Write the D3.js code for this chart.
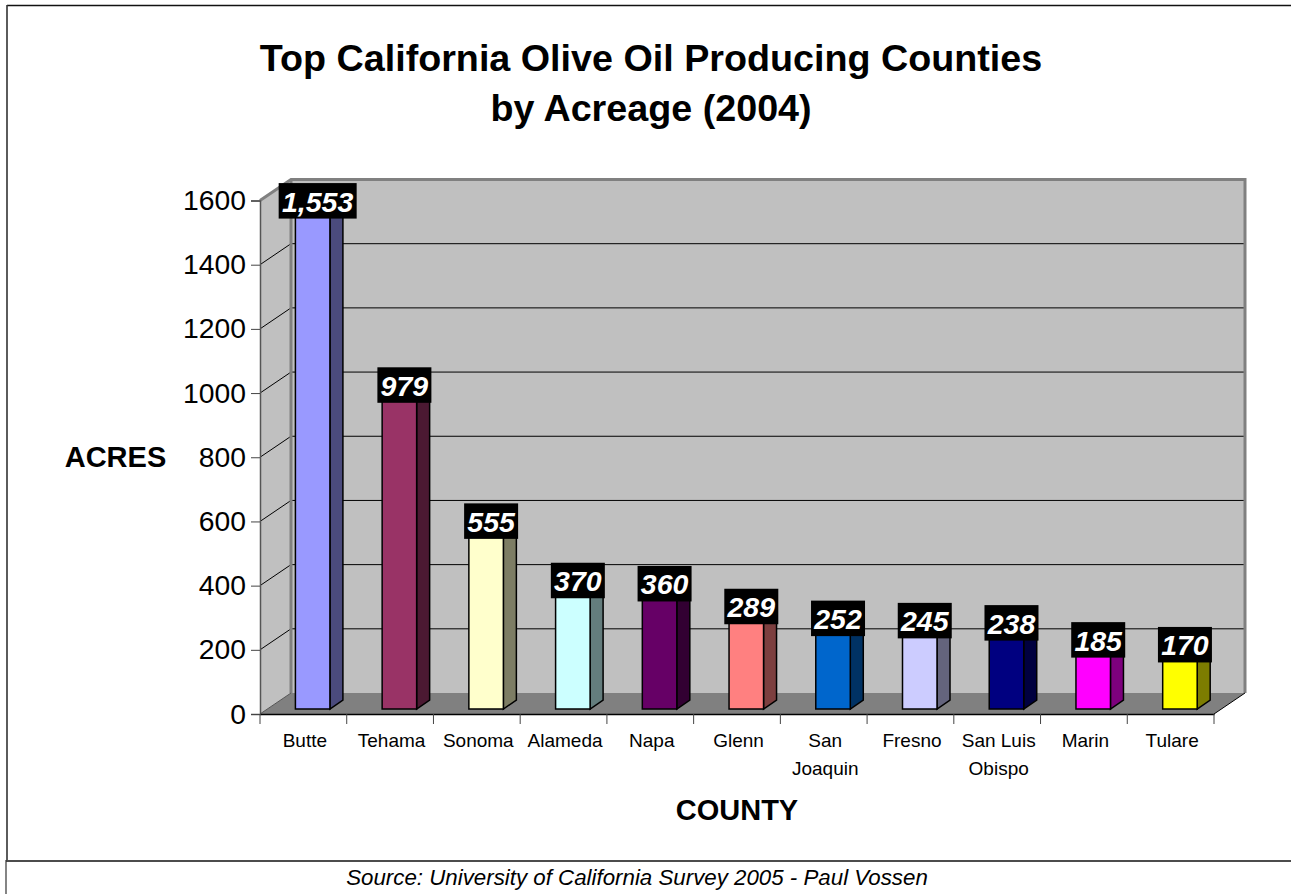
<!DOCTYPE html>
<html>
<head>
<meta charset="utf-8">
<style>
  html, body { margin: 0; padding: 0; background: #fff; overflow: hidden; }
  text { font-family: "Liberation Sans", Arial, sans-serif; fill: #000; }
</style>
<script src="https://cdn.jsdelivr.net/npm/d3@7/dist/d3.min.js"></script>
</head>
<body>
<div id="chart-area"></div>
<script>
const counties = ['Butte', 'Tehama', 'Sonoma', 'Alameda', 'Napa', 'Glenn', 'San Joaquin', 'Fresno', 'San Luis Obispo', 'Marin', 'Tulare']
const acres = [1553, 979, 555, 370, 360, 289, 252, 245, 238, 185, 170]
const barColors = ['#9999ff', '#993366', '#ffffcc', '#ccffff', '#660066', '#ff8080', '#0066cc', '#ccccff', '#000080', '#ff00ff', '#ffff00']
const yTicks = [0, 200, 400, 600, 800, 1000, 1200, 1400, 1600]
const titleLines = ['Top California Olive Oil Producing Counties', 'by Acreage (2004)']
// how the county names wrap under the axis
const countyLines = { 'San Joaquin': ['San', 'Joaquin'], 'San Luis Obispo': ['San Luis', 'Obispo'] }

const W = 1291
const H = 894

const svg = d3.select('#chart-area')
              .append('svg')
              .attr('width', W)
              .attr('height', H)
              .style('display', 'block')

// X Scale
const x = d3.scaleBand()
            .domain(counties)
            .range([260, 1214])

// Y Scale
const y = d3.scaleLinear()
            .domain([0, 1600])
            .range([714, 200.5])

// 3D offsets: back wall and the bars
const depth = { x: 31, y: -21 }
const bar = { shift: 9.3, width: 34.5, lift: 5, dx: 13, dy: -9 }

const x0 = x.range()[0]
const x1 = x.range()[1]

// Frame
svg.append('line').attr('x1', 7).attr('x2', W).attr('y1', 5.5).attr('y2', 5.5).attr('stroke', '#111').attr('stroke-width', 1.6)
svg.append('line').attr('x1', 7).attr('x2', 7).attr('y1', 5).attr('y2', 860).attr('stroke', '#333').attr('stroke-width', 1.6)
svg.append('line').attr('x1', 6).attr('x2', W).attr('y1', 861).attr('y2', 861).attr('stroke', '#111').attr('stroke-width', 1.6)
svg.append('line').attr('x1', 6).attr('x2', 6).attr('y1', 860).attr('y2', H).attr('stroke', '#333').attr('stroke-width', 1.2)

// Walls
const pts = a => a.map(p => p.join(',')).join(' ')
svg.append('polygon') // back wall
   .attr('points', pts([[x0 + depth.x, y(1600) + depth.y], [x1 + depth.x, y(1600) + depth.y], [x1 + depth.x, y(0) + depth.y], [x0 + depth.x, y(0) + depth.y]]))
   .attr('fill', '#c0c0c0')
svg.append('polygon') // left wall
   .attr('points', pts([[x0, y(1600)], [x0 + depth.x, y(1600) + depth.y], [x0 + depth.x, y(0) + depth.y], [x0, y(0)]]))
   .attr('fill', '#c0c0c0')
svg.append('polygon') // floor
   .attr('points', pts([[x0, y(0)], [x0 + depth.x, y(0) + depth.y], [x1 + depth.x, y(0) + depth.y], [x1, y(0)]]))
   .attr('fill', '#808080')

// Gridlines
const grid = yTicks.slice(1, -1)
svg.selectAll('.grid-back').data(grid).enter().append('line')
   .attr('class', 'grid-back')
   .attr('x1', x0 + depth.x).attr('x2', x1 + depth.x)
   .attr('y1', d => y(d) + depth.y).attr('y2', d => y(d) + depth.y)
   .attr('stroke', '#000').attr('stroke-width', 1)
svg.selectAll('.grid-side').data(grid).enter().append('line')
   .attr('class', 'grid-side')
   .attr('x1', x0).attr('x2', x0 + depth.x)
   .attr('y1', d => y(d)).attr('y2', d => y(d) + depth.y)
   .attr('stroke', '#000').attr('stroke-width', 1)

// Wall edges
svg.append('polyline')
   .attr('points', pts([[x0, y(1600)], [x0 + depth.x, y(1600) + depth.y], [x1 + depth.x, y(1600) + depth.y], [x1 + depth.x, y(0) + depth.y]]))
   .attr('fill', 'none').attr('stroke', '#808080').attr('stroke-width', 3)
svg.append('line')
   .attr('x1', x0 + depth.x).attr('y1', y(1600) + depth.y).attr('x2', x0 + depth.x).attr('y2', y(0) + depth.y)
   .attr('stroke', '#808080').attr('stroke-width', 3)
svg.append('line')
   .attr('x1', x0).attr('y1', y(0)).attr('x2', x0 + depth.x).attr('y2', y(0) + depth.y)
   .attr('stroke', '#555').attr('stroke-width', 1)
svg.append('line')
   .attr('x1', x1).attr('y1', y(0)).attr('x2', x1 + depth.x).attr('y2', y(0) + depth.y)
   .attr('stroke', '#000').attr('stroke-width', 1)

// Y Axis
const yAxisCall = d3.axisLeft(y)
                    .tickValues(yTicks)
                    .tickSize(9)
                    .tickPadding(5)
                    .tickFormat(d => d)
const yAxisGroup = svg.append('g')
                      .attr('class', 'y-axis')
                      .attr('transform', 'translate(' + x0 + ',0)')
                      .call(yAxisCall)
yAxisGroup.select('.domain').attr('stroke', '#555').attr('stroke-width', 1.5)
yAxisGroup.selectAll('line').attr('stroke', '#444').attr('stroke-width', 1)
yAxisGroup.selectAll('text')
          .attr('font-size', '28.3px')
          .attr('font-family', '"Liberation Sans", Arial, sans-serif')
          .attr('fill', '#000')

// X Axis
const xAxisCall = d3.axisBottom(x).tickSize(0).tickFormat('')
const xAxisGroup = svg.append('g')
                      .attr('class', 'x-axis')
                      .attr('transform', 'translate(0,' + y(0) + ')')
                      .call(xAxisCall)
xAxisGroup.select('.domain').attr('stroke', '#000').attr('stroke-width', 1.5)

const bandEdges = counties.map(c => x(c)).concat([x1])
svg.selectAll('.x-tick').data(bandEdges).enter().append('line')
   .attr('class', 'x-tick')
   .attr('x1', d => d).attr('x2', d => d)
   .attr('y1', y(0)).attr('y2', y(0) + 10)
   .attr('stroke', '#444').attr('stroke-width', 1)

// Bars
const left = d => x(d.county) + x.bandwidth() / 2 + bar.shift - bar.width / 2
const top_ = d => y(d.value) - bar.lift
const base = y(0) - bar.lift
const data = counties.map((county, i) => ({ county, value: acres[i], color: barColors[i] }))

const bars = svg.selectAll('.bar').data(data).enter().append('g').attr('class', 'bar')

bars.append('polygon') // side
    .attr('points', d => pts([
      [left(d) + bar.width, top_(d)],
      [left(d) + bar.width + bar.dx, top_(d) + bar.dy],
      [left(d) + bar.width + bar.dx, base + bar.dy],
      [left(d) + bar.width, base]
    ]))
    .attr('fill', d => d3.rgb(d.color).darker(2).formatHex())
    .attr('stroke', '#000').attr('stroke-width', 1.5)
bars.append('rect') // front
    .attr('x', left)
    .attr('y', top_)
    .attr('width', bar.width)
    .attr('height', d => base - top_(d))
    .attr('fill', d => d.color)
    .attr('stroke', '#000').attr('stroke-width', 1.5)

// Data labels
const labelFormat = d3.format(',')
const labels = svg.selectAll('.label').data(data).enter().append('g').attr('class', 'label')
labels.append('rect')
      .attr('x', d => left(d) + bar.width / 2 + 5 - (d.value >= 1000 ? 39 : 27))
      .attr('y', d => top_(d) - 27.5)
      .attr('width', d => d.value >= 1000 ? 78 : 54)
      .attr('height', 35.5)
      .attr('fill', '#000')
labels.append('text')
      .attr('x', d => left(d) + bar.width / 2 + 5)
      .attr('y', d => top_(d) + 1)
      .attr('text-anchor', 'middle')
      .attr('font-size', '28.5px')
      .attr('font-weight', 'bold')
      .attr('font-style', 'italic')
      .style('fill', '#fff')
      .text(d => labelFormat(d.value))

// Category labels
const catText = svg.selectAll('.cat').data(counties).enter().append('text')
                   .attr('class', 'cat')
                   .attr('text-anchor', 'middle')
                   .attr('font-size', '19px')
catText.selectAll('tspan')
       .data(d => (countyLines[d] || [d]).map(t => ({ t, c: d })))
       .enter().append('tspan')
       .attr('x', d => x(d.c) + x.bandwidth() / 2 + 1.5)
       .attr('y', (d, i) => 747 + i * 27.5)
       .text(d => d.t)

// Title
svg.selectAll('.title').data(titleLines).enter().append('text')
   .attr('class', 'title')
   .attr('x', 651)
   .attr('y', (d, i) => 71 + i * 49.5)
   .attr('text-anchor', 'middle')
   .attr('font-size', '37.7px')
   .attr('font-weight', 'bold')
   .text(d => d)

// Y Label
svg.append('text')
   .attr('x', 115.5).attr('y', 467)
   .attr('text-anchor', 'middle')
   .attr('font-size', '29px')
   .attr('font-weight', 'bold')
   .text('ACRES')

// X Label
svg.append('text')
   .attr('x', 737).attr('y', 820)
   .attr('text-anchor', 'middle')
   .attr('font-size', '29px')
   .attr('font-weight', 'bold')
   .text('COUNTY')

// Source
svg.append('text')
   .attr('x', 637).attr('y', 885)
   .attr('text-anchor', 'middle')
   .attr('font-size', '22.3px')
   .attr('font-style', 'italic')
   .text('Source: University of California Survey 2005 - Paul Vossen')
</script>
</body>
</html>
